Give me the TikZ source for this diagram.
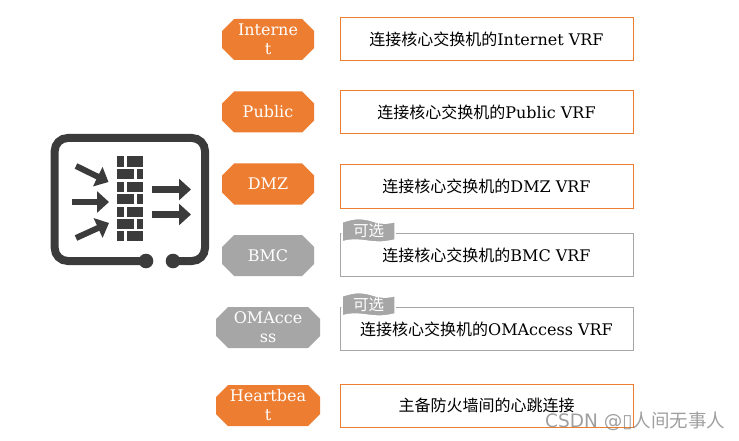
\documentclass[tikz,border=0pt]{standalone}
\usepackage{fontspec}
\setmainfont{DejaVu Serif}
\newfontfamily\cjk{Noto Sans CJK SC}
\newfontfamily\wm{DejaVu Sans}
\usetikzlibrary{arrows.meta,calc}
\definecolor{org}{HTML}{ED7D31}
\definecolor{gry}{HTML}{A6A6A6}
\definecolor{ico}{HTML}{3B3B3B}
\newcommand{\zh}[1]{{\cjk #1}}
\tikzset{
  x=1pt,y=-1pt,
  pill/.style={rectangle,inner sep=0pt,text=white,align=center,font=\fontsize{16}{19}\selectfont,
    minimum height=41pt,anchor=center,
    path picture={
      \fill[#1] ($(path picture bounding box.north west)+(12pt,0)$)
        -- ($(path picture bounding box.north east)+(-12pt,0)$)
        -- ($(path picture bounding box.north east)+(0,-12pt)$)
        -- ($(path picture bounding box.south east)+(0,12pt)$)
        -- ($(path picture bounding box.south east)+(-12pt,0)$)
        -- ($(path picture bounding box.south west)+(12pt,0)$)
        -- ($(path picture bounding box.south west)+(0,12pt)$)
        -- ($(path picture bounding box.north west)+(0,-12pt)$) -- cycle;
    }},
  narrowpill/.style={minimum width=92pt},
  widepill/.style={minimum width=104pt},
  txtbox/.style={rectangle,draw=#1,line width=1pt,fill=white,minimum width=293pt,minimum height=43pt,inner sep=0pt,
    font=\fontsize{16}{19}\selectfont,text=black},
  flagshape/.style={fill=gry,draw=white,line width=1.5pt},
  taglabel/.style={text=white,font=\fontsize{15.5}{18}\selectfont,inner sep=0pt},
  frame/.style={draw=ico,line width=8pt},
  brick/.style={fill=ico},
  inarrow/.style={draw=ico,line width=6pt,-{Triangle[length=12pt,width=21pt]}},
  outarrow/.style={draw=ico,line width=7pt,-{Triangle[length=12pt,width=21pt]}},
}
\newcommand{\brk}[4]{\fill[brick] (#1,#3) rectangle (#2,#4);}
\newcommand{\flagat}[2]{\begin{scope}[shift={(#1,#2)}]
  \path[flagshape] (0,2) .. controls (14,-3) and (22,-2) .. (34,2) .. controls (42,4) and (48,3) .. (53,1.5)
   -- (53,20) .. controls (44,22) and (38,23) .. (24,21) .. controls (14,19.5) and (6,20) .. (0,22) -- cycle;
\end{scope}}
\begin{document}
\begin{tikzpicture}
\useasboundingbox (0,0) rectangle (739,441);
\fill[white] (0,0) rectangle (739,441);
% icon
\coordinate (g1) at (146,261);
\coordinate (g2) at (173,261);
\draw[frame,rounded corners=13pt] (g1) -- (54.7,261) -- (54.7,138) -- (205,138) -- (205,261) -- (g2);
\fill[ico] (g1) circle (7.3pt);
\fill[ico] (g2) circle (7.3pt);
\brk{117.3}{123.7}{156}{166.7}\brk{127.3}{143}{156}{166.7}
\brk{117.3}{133.7}{169}{179}\brk{137}{143}{169}{179}
\brk{117.3}{123.7}{181.7}{191.7}\brk{127.3}{143}{181.7}{191.7}
\brk{117.3}{133.7}{194}{204}\brk{137}{143}{194}{204}
\brk{117.3}{123.7}{206.7}{216.7}\brk{127.3}{143}{206.7}{216.7}
\brk{117.3}{133.7}{219}{228.5}\brk{137}{143}{219}{228.5}
\brk{117.3}{123.7}{231}{240.7}\brk{127.3}{143}{231}{240.7}
\coordinate (a1s) at (76,166); \coordinate (a1e) at (108.5,182);
\coordinate (a2s) at (72,202); \coordinate (a2e) at (109,202);
\coordinate (a3s) at (76,238); \coordinate (a3e) at (109,223);
\coordinate (b1s) at (152,189.5); \coordinate (b1e) at (191,189.5);
\coordinate (b2s) at (152,214.5); \coordinate (b2e) at (191,214.5);
\draw[inarrow] (a1s) -- (a1e);
\draw[inarrow] (a2s) -- (a2e);
\draw[inarrow] (a3s) -- (a3e);
\draw[outarrow] (b1s) -- (b1e);
\draw[outarrow] (b2s) -- (b2e);
% pills
\node[pill=org,narrowpill] (p1) at (268,39.5) {Interne\\t};
\node[pill=org,narrowpill] (p2) at (268,112) {Public};
\node[pill=org,narrowpill] (p3) at (268,184) {DMZ};
\node[pill=gry,narrowpill] (p4) at (268,255.5) {BMC};
\node[pill=gry,widepill] (p5) at (268,327.5) {OMAcce\\ss};
\node[pill=org,widepill] (p6) at (268,405.5) {Heartbea\\t};
% boxes
\node[txtbox=org] (b1) at (486.5,39.5) {\zh{连接核心交换机的}Internet VRF};
\node[txtbox=org] (b2) at (486.5,112) {\zh{连接核心交换机的}Public VRF};
\node[txtbox=org] (b3) at (486.5,186.5) {\zh{连接核心交换机的}DMZ VRF};
\node[txtbox=gry] (b4) at (486.5,255) {\zh{连接核心交换机的}BMC VRF};
\node[txtbox=gry] (b5) at (486.5,329) {\zh{连接核心交换机的}OMAccess VRF};
\node[txtbox=org] (b6) at (486.5,405.5) {\zh{主备防火墙间的心跳连接}};
% optional tags
\flagat{342}{220}
\node[taglabel] (t1) at (368.5,231) {\zh{可选}};
\flagat{342}{294}
\node[taglabel] (t2) at (368.5,305) {\zh{可选}};
% watermark
\node[anchor=west,inner sep=0pt,text=gray,opacity=.75,font=\fontsize{18.5}{22}\selectfont] (wm) at (545,421)
  {\wm CSDN @▯\zh{人间无事人}};
\end{tikzpicture}
\end{document}
